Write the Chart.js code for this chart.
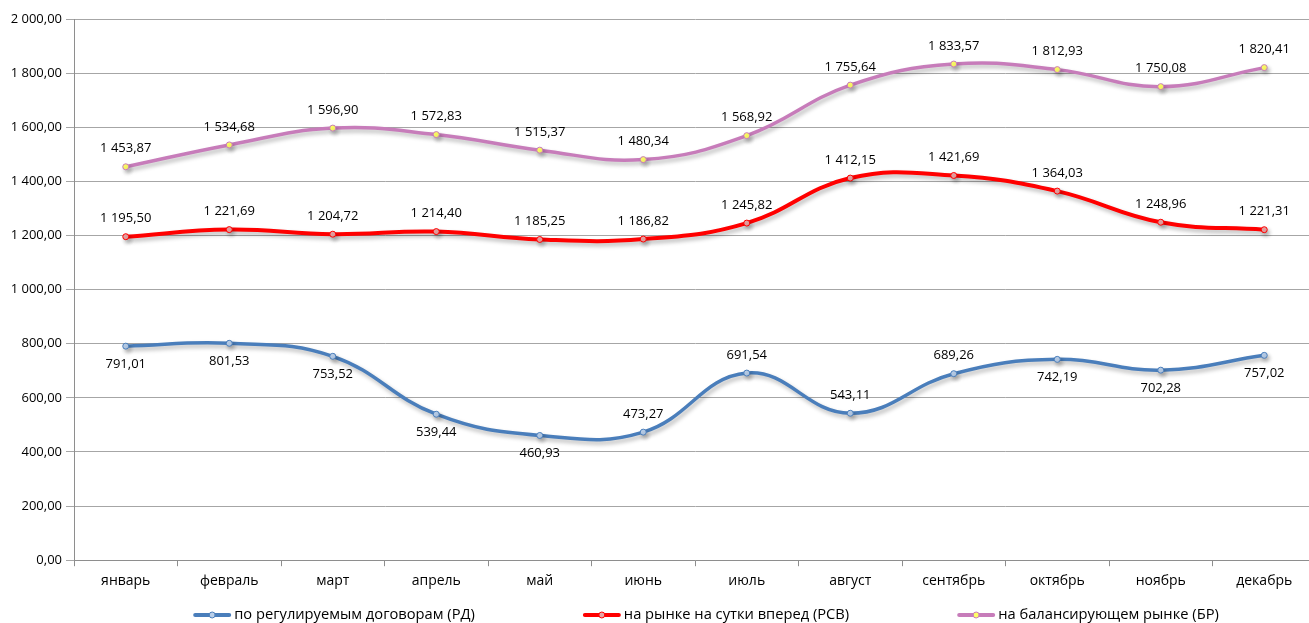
<!DOCTYPE html>
<html>
<head>
<meta charset="utf-8">
<script src="https://cdn.jsdelivr.net/npm/chart.js@4.4.1/dist/chart.umd.min.js"></script>
<style>
  html, body { margin: 0; padding: 0; background: #fff; overflow: hidden; }
  #wrap { width: 1321px; height: 623px; }
</style>
</head>
<body>
<div id="wrap"><canvas id="grafico"></canvas></div>
<script>
const meses = ['январь','февраль','март','апрель','май','июнь','июль','август','сентябрь','октябрь','ноябрь','декабрь'];
const valoresRD = [791.01, 801.53, 753.52, 539.44, 460.93, 473.27, 691.54, 543.11, 689.26, 742.19, 702.28, 757.02];
const valoresRSV = [1195.50, 1221.69, 1204.72, 1214.40, 1185.25, 1186.82, 1245.82, 1412.15, 1421.69, 1364.03, 1248.96, 1221.31];
const valoresBR = [1453.87, 1534.68, 1596.90, 1572.83, 1515.37, 1480.34, 1568.92, 1755.64, 1833.57, 1812.93, 1750.08, 1820.41];
const nomes = ['по регулируемым договорам (РД)', 'на рынке на сутки вперед (РСВ)', 'на балансирующем рынке (БР)'];

const FONTE = '"Open Sans", "Noto Sans", sans-serif';

// onde fica o rotulo de cada ponto (cima / baixo)
const posRotulos = [
    ['b','b','b','b','b','t','t','t','t','b','b','b'],
    ['t','t','t','t','t','t','t','t','t','t','t','t'],
    ['t','t','t','t','t','t','t','t','t','t','t','t']
];

function formata(v) {
    const partes = v.toFixed(2).split('.');
    return partes[0].replace(/\B(?=(\d{3})+(?!\d))/g, '\u00a0') + ',' + partes[1];
}

const cores = ['#4a7ebb', '#ff0000', '#c77cba'];
const coresPonto = ['#b9cfea', '#e9a3a3', '#ffff66'];

function desenhaIcone(g, x, y, i) {
    g.save();
    g.strokeStyle = cores[i];
    g.lineWidth = 4;
    g.lineCap = 'round';
    g.beginPath(); g.moveTo(x + 2, y); g.lineTo(x + 36, y); g.stroke();
    g.beginPath(); g.arc(x + 19, y, 3, 0, Math.PI * 2);
    g.fillStyle = coresPonto[i]; g.fill();
    g.lineWidth = 1; g.stroke();
    g.restore();
}

const rotulosPlugin = {
    id: 'rotulos',
    beforeDatasetsDraw(chart) {
        const ctx = chart.ctx;
        ctx.save();
        ctx.shadowColor = 'rgba(0,0,0,0.28)';
        ctx.shadowBlur = 4;
        ctx.shadowOffsetX = 2;
        ctx.shadowOffsetY = 3;
    },
    afterDatasetsDraw(chart) {
        const ctx = chart.ctx;
        ctx.restore();
        ctx.save();
        ctx.font = '13px ' + FONTE;
        ctx.fillStyle = '#000';
        ctx.textAlign = 'center';
        ctx.textBaseline = 'middle';
        chart.data.datasets.forEach((ds, i) => {
            const meta = chart.getDatasetMeta(i);
            meta.data.forEach((pt, j) => {
                const dy = posRotulos[i][j] === 'b' ? 18 : -18;
                ctx.fillText(formata(ds.data[j]), pt.x, pt.y + dy);
            });
        });
        ctx.restore();
    },
    afterDraw(chart) {
        // legenda desenhada na mao, com o espacamento do original
        const ctx = chart.ctx;
        ctx.save();
        ctx.font = '14.7px ' + FONTE;
        ctx.fillStyle = '#000';
        ctx.textBaseline = 'middle';
        const larguras = nomes.map(n => 41 + ctx.measureText(n).width);
        const gap = 108;
        const total = larguras.reduce((a, b) => a + b, 0) + gap * (nomes.length - 1);
        let x = 706 - total / 2;
        const y = 615;
        nomes.forEach((n, i) => {
            desenhaIcone(ctx, x, y, i);
            ctx.fillText(n, x + 41, y);
            x += larguras[i] + gap;
        });
        ctx.restore();
    }
};

function serie(i, dados) {
    return {
        label: nomes[i],
        data: dados,
        borderColor: cores[i],
        backgroundColor: cores[i],
        borderWidth: i === 1 ? 4 : 3.5,
        tension: 0.42,
        pointRadius: 3,
        pointBorderWidth: 1,
        pointBackgroundColor: coresPonto[i],
        pointBorderColor: cores[i],
        fill: false
    };
}

const ctx = document.getElementById('grafico');

new Chart(ctx, {
    type: 'line',
    data: {
        labels: meses,
        datasets: [serie(0, valoresRD), serie(1, valoresRSV), serie(2, valoresBR)]
    },
    options: {
        responsive: true,
        maintainAspectRatio: false,
        animation: false,
        layout: { padding: { top: 19, right: 0, left: 0, bottom: 28 } },
        plugins: {
            tooltip: { enabled: false },
            legend: { display: false }
        },
        scales: {
            x: {
                offset: true,
                grid: {
                    offset: true,
                    drawOnChartArea: false,
                    drawTicks: true,
                    tickLength: 6,
                    color: '#8e8e8e'
                },
                border: { color: '#8e8e8e', width: 1 },
                ticks: {
                    color: '#000',
                    padding: 6,
                    font: { family: FONTE, size: 14 },
                    maxRotation: 0
                }
            },
            y: {
                min: 0,
                max: 2000,
                afterFit(scale) { scale.width = 74; },
                grid: {
                    color: '#a6a6a6',
                    tickLength: 8,
                    drawTicks: true
                },
                border: { color: '#8e8e8e', width: 1 },
                ticks: {
                    stepSize: 200,
                    color: '#000',
                    padding: 4,
                    font: { family: FONTE, size: 13 },
                    callback: (v) => formata(v)
                }
            }
        }
    },
    plugins: [rotulosPlugin]
});
</script>
</body>
</html>
